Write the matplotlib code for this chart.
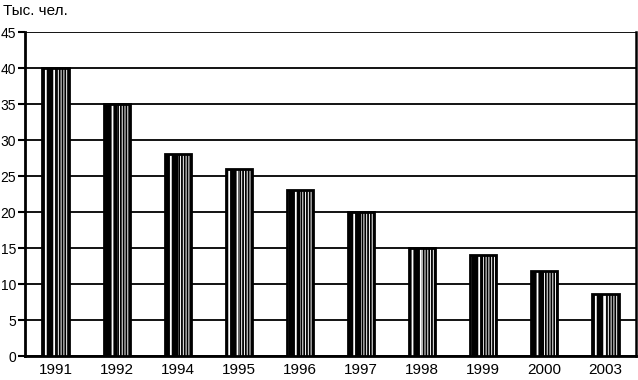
import matplotlib
matplotlib.use("Agg")
import matplotlib.pyplot as plt
from matplotlib import font_manager

years = ["1991", "1992", "1994", "1995", "1996", "1997", "1998", "1999", "2000", "2003"]
values = [40, 35, 28, 26, 23, 20, 15, 14, 11.8, 8.6]
yticks = [0, 5, 10, 15, 20, 25, 30, 35, 40, 45]
ylabel = "Тыс. чел."

names = {f.name for f in font_manager.fontManager.ttflist}
fam = ["Liberation Sans Narrow", "DejaVu Sans"] if "Liberation Sans Narrow" in names else ["Liberation Sans", "DejaVu Sans"]
plt.rcParams["font.family"] = fam
plt.rcParams["hatch.linewidth"] = 1.3

fig = plt.figure(figsize=(6.38, 3.8), dpi=100)
ax = fig.add_axes([25/638, 24/380, 611/638, 324/380])

x = list(range(len(years)))
w = 0.43
ax.bar(x, values, width=w, color="white", edgecolor="black", hatch="||||||", linewidth=0, zorder=3)
# darker left part of each bar
ax.bar([i - w/4 for i in x], values, width=w/2, color="black", edgecolor="white", hatch="||", linewidth=0, zorder=3)
ax.bar(x, values, width=w, color="none", edgecolor="black", linewidth=2, zorder=4)

ax.set_xlim(-0.5, len(years) - 0.5)
ax.set_ylim(0, 45)
ax.set_yticks(yticks)
ax.set_xticks(x)
ax.set_xticklabels(years, fontsize=11)
ax.tick_params(axis="y", labelsize=10, length=5, width=1.5, pad=1.5)
ax.tick_params(axis="x", length=0, pad=5)
ax.yaxis.grid(True, color="black", linewidth=1.3, zorder=1)
ax.set_axisbelow(True)
for s in ["left", "bottom"]:
    ax.spines[s].set_linewidth(2)
ax.spines["right"].set_linewidth(1.8)
ax.spines["top"].set_visible(False)

fig.text(3/638, 1 - 11/380, ylabel, fontsize=11, va="center", ha="left")
fig.savefig("out.png", dpi=100)
